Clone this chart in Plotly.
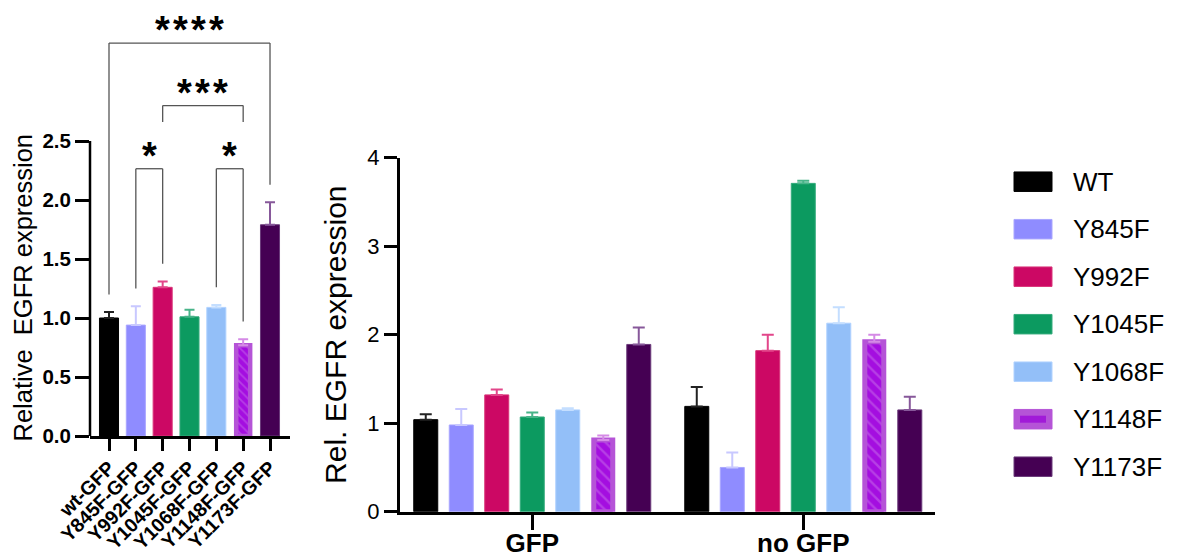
import plotly.graph_objects as go

# ---- data ---------------------------------------------------------------
groups = ["WT", "Y845F", "Y992F", "Y1045F", "Y1068F", "Y1148F", "Y1173F"]

left_labels = ["wt-GFP", "Y845F-GFP", "Y992F-GFP", "Y1045F-GFP",
               "Y1068F-GFP", "Y1148F-GFP", "Y1173F-GFP"]
left_mean = [1.00, 0.94, 1.26, 1.01, 1.09, 0.77, 1.79]
left_err = [0.05, 0.16, 0.05, 0.06, 0.02, 0.05, 0.19]

conditions = ["GFP", "no GFP"]
gfp_mean = [1.04, 0.98, 1.32, 1.07, 1.15, 0.81, 1.89]
gfp_err = [0.06, 0.18, 0.06, 0.05, 0.02, 0.05, 0.19]
nogfp_mean = [1.19, 0.50, 1.82, 3.71, 2.13, 1.92, 1.15]
nogfp_err = [0.22, 0.17, 0.18, 0.03, 0.18, 0.08, 0.15]

# significance tests on the left panel: (first, second, label)
comparisons = [
    ("wt-GFP", "Y1173F-GFP", "****"),
    ("Y992F-GFP", "Y1148F-GFP", "***"),
    ("Y845F-GFP", "Y992F-GFP", "*"),
    ("Y1068F-GFP", "Y1148F-GFP", "*"),
]

# ---- styling ------------------------------------------------------------
FONT = "Arial, Liberation Sans, sans-serif"
W, H = 1180, 557

bar_colors = ["#000000", "#8f8cff", "#cc0864", "#0c9a60",
              "#93bff8", "#a40ee0", "#450053"]
err_colors = ["#222222", "#c8c8ff", "#e2468a", "#48b489",
              "#c4deff", "#d58ae6", "#87589a"]
edge_colors = ["#000000", "#a9a6ff", "#d93579", "#35ab7c",
               "#b0d2ff", "#b554d7", "#6a3a7a"]
HATCHED = "Y1148F"
hatch_fg = "#c870ea"


def px_x(p):
    return p / W


def px_y(p):
    return 1 - p / H


fig = go.Figure()

# ---- left panel: one bar per construct ----------------------------------
for i, g in enumerate(groups):
    hatched = g == HATCHED
    marker = dict(color=bar_colors[i],
                  line=dict(color=edge_colors[i], width=4.5 if hatched else 1))
    if hatched:
        marker["pattern"] = dict(shape="\\", fgcolor=hatch_fg, size=6,
                                 solidity=0.3, fillmode="overlay")
    fig.add_trace(go.Bar(
        x=[left_labels[i]], y=[left_mean[i]],
        width=0.52 if hatched else 0.71,
        offsetgroup="left", xaxis="x", yaxis="y",
        marker=marker, showlegend=False,
        error_y=dict(type="data", symmetric=False, array=[left_err[i]],
                     arrayminus=[0], color=err_colors[i], thickness=2, width=5),
    ))

# ---- right panel: grouped by condition ----------------------------------
for i, g in enumerate(groups):
    hatched = g == HATCHED
    marker = dict(color=bar_colors[i],
                  line=dict(color=edge_colors[i], width=5 if hatched else 1))
    if hatched:
        marker["pattern"] = dict(shape="\\", fgcolor=hatch_fg, size=8,
                                 solidity=0.3, fillmode="overlay")
    kw = dict(width=0.07) if hatched else {}
    fig.add_trace(go.Bar(
        x=conditions, y=[gfp_mean[i], nogfp_mean[i]], name=g,
        offsetgroup=g, xaxis="x2", yaxis="y2",
        marker=marker, showlegend=False,
        error_y=dict(type="data", symmetric=False,
                     array=[gfp_err[i], nogfp_err[i]], arrayminus=[0, 0],
                     color=err_colors[i], thickness=2, width=6),
        **kw,
    ))

# ---- significance brackets ----------------------------------------------
top = [m + e for m, e in zip(left_mean, left_err)]
bracket_level = [3.33, 2.80, 2.265, 2.265]
short_leg = [None, 0.14, None, None]
LEG_GAP = 0.15
shapes = []
annotations = []
line_style = dict(color="#555555", width=1.3)
for k, (a, b, label) in enumerate(comparisons):
    ia, ib = left_labels.index(a), left_labels.index(b)
    lvl = bracket_level[k]
    if short_leg[k] is None:
        ya, yb = top[ia] + LEG_GAP, top[ib] + LEG_GAP
    else:
        ya = yb = lvl - short_leg[k]
    for x0, y0, x1, y1 in [(ia, ya, ia, lvl), (ia, lvl, ib, lvl), (ib, lvl, ib, yb)]:
        shapes.append(dict(type="line", xref="x", yref="y", x0=x0, y0=y0,
                           x1=x1, y1=y1, line=line_style, layer="above"))
    annotations.append(dict(
        x=(ia + ib) / 2, y=lvl, xref="x", yref="y",
        text="\u200a".join(label),
        showarrow=False, yanchor="middle", yshift=13,
        font=dict(family=FONT, size=38, color="black", weight="bold"),
    ))

# left y axis line only spans the tick range
shapes.append(dict(type="line", xref="x domain", yref="y", x0=0, x1=0,
                   y0=0, y1=2.5, line=dict(color="black", width=2.5)))

# left y axis title, centred on the 0 - 2.5 tick span
annotations.append(dict(
    x=px_x(22), y=px_y(287.5), xref="paper", yref="paper",
    text="Relative\u00a0 EGFR expression", textangle=-90,
    showarrow=False, xanchor="center", yanchor="middle",
    font=dict(family=FONT, size=25.5, color="black"),
))

# ---- legend -------------------------------------------------------------
row0, row_step = 181.7, 47.5
sw_x0, sw_x1, sw_h = 1014, 1052, 19.5
for i, g in enumerate(groups):
    cy = row0 + i * row_step
    hatched = g == HATCHED
    shapes.append(dict(type="rect", xref="paper", yref="paper",
                       x0=px_x(sw_x0), x1=px_x(sw_x1),
                       y0=px_y(cy + sw_h / 2), y1=px_y(cy - sw_h / 2),
                       fillcolor=edge_colors[i] if hatched else bar_colors[i],
                       line=dict(color=edge_colors[i], width=1)))
    if hatched:
        shapes.append(dict(type="rect", xref="paper", yref="paper",
                           x0=px_x(sw_x0 + 6), x1=px_x(sw_x1 - 6),
                           y0=px_y(cy + 3.5), y1=px_y(cy - 3.5),
                           fillcolor="#a11ad8", line=dict(width=0)))
    annotations.append(dict(
        x=px_x(1071), y=px_y(cy), xref="paper", yref="paper", text=g,
        showarrow=False, xanchor="left", yanchor="middle",
        font=dict(family=FONT, size=26, color="black"),
    ))

axis_common = dict(showgrid=False, zeroline=False, ticks="outside",
                   tickcolor="black", linecolor="black", automargin=False)

fig.update_layout(
    width=W, height=H,
    margin=dict(l=0, r=0, t=0, b=0, autoexpand=False),
    paper_bgcolor="white", plot_bgcolor="white",
    barmode="group", bargap=0.083, bargroupgap=0.324,
    font=dict(family=FONT, color="black"),
    xaxis=dict(**axis_common, domain=[px_x(90), px_x(290)],
               type="category", range=[-0.708, 6.745], anchor="y",
               tickangle=-45, ticklen=12, tickwidth=2.5,
               showline=True, linewidth=2.5, ticklabelstandoff=-2,
               tickfont=dict(family=FONT, size=19.5, weight="bold")),
    yaxis=dict(**axis_common, domain=[px_y(436), px_y(20)],
               range=[0, 416 / 118], anchor="x",
               tickvals=[0, 0.5, 1.0, 1.5, 2.0, 2.5], tickformat=".1f",
               ticklen=14, tickwidth=2.5, showline=False,
               tickfont=dict(family=FONT, size=20.5, weight="bold")),
    xaxis2=dict(**axis_common, domain=[px_x(400), px_x(935)],
                type="category", range=[-0.488, 1.486], anchor="y2",
                ticklen=15, tickwidth=3, showline=True, linewidth=3,
                ticklabelstandoff=-9,
                tickfont=dict(family=FONT, size=26, weight="bold")),
    yaxis2=dict(**axis_common, domain=[px_y(511.7), px_y(157.7)],
                range=[0, 4], dtick=1, anchor="x2",
                ticklen=13, tickwidth=3, showline=True, linewidth=3,
                tickfont=dict(family=FONT, size=22),
                title=dict(text="Rel. EGFR expression", standoff=12,
                           font=dict(family=FONT, size=30))),
    shapes=shapes,
    annotations=annotations,
)

fig.write_html("out.html")
